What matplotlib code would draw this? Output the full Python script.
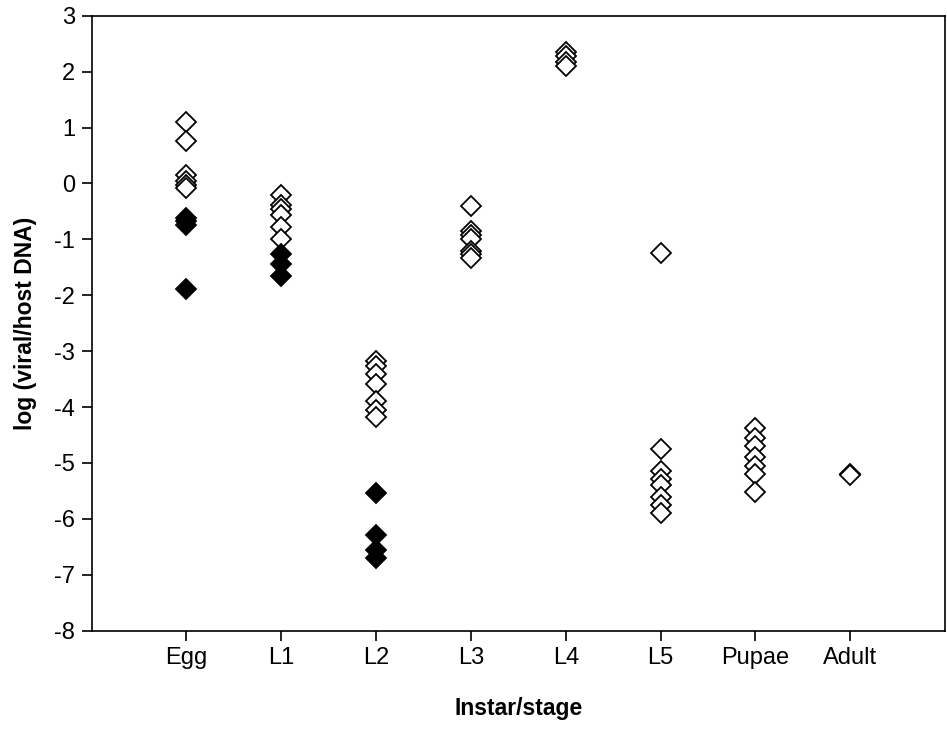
import matplotlib
matplotlib.use("Agg")
import matplotlib.pyplot as plt
from matplotlib.ticker import FuncFormatter

plt.rcParams['font.family'] = ['Liberation Sans', 'DejaVu Sans']

# stages on the x axis
estagios = ['Egg', 'L1', 'L2', 'L3', 'L4', 'L5', 'Pupae', 'Adult']

# open diamonds
egg_aberto = [1.1, 0.75, 0.15, 0.05, -0.02, -0.08]
l1_aberto = [-0.2, -0.38, -0.45, -0.56, -0.78, -1.0]
l2_aberto = [-3.17, -3.27, -3.4, -3.58, -3.9, -4.05, -4.18]
l3_aberto = [-0.4, -0.85, -0.92, -1.0, -1.2, -1.27, -1.33]
l4_aberto = [2.35, 2.28, 2.18, 2.1]
l5_aberto = [-1.25, -4.75, -5.15, -5.28, -5.4, -5.6, -5.75, -5.9]
pupa_aberto = [-4.38, -4.55, -4.7, -4.9, -5.05, -5.2, -5.52]
adulto_aberto = [-5.2, -5.22]

# filled diamonds
egg_cheio = [-0.62, -0.68, -0.74, -1.89]
l1_cheio = [-1.27, -1.45, -1.66]
l2_cheio = [-5.53, -6.28, -6.55, -6.7]

abertos = [egg_aberto, l1_aberto, l2_aberto, l3_aberto, l4_aberto,
           l5_aberto, pupa_aberto, adulto_aberto]
cheios = [egg_cheio, l1_cheio, l2_cheio, [], [], [], [], []]

fig = plt.figure(figsize=(9.47, 7.40), dpi=100)
ax = fig.add_axes([0.0968, 0.1477, 0.9012, 0.8311])

for i, vals in enumerate(abertos):
    ax.plot([i + 1] * len(vals), vals, linestyle='none', marker='D',
            markersize=10.5, markerfacecolor='white', markeredgecolor='black',
            markeredgewidth=1.3)
for i, vals in enumerate(cheios):
    if vals:
        ax.plot([i + 1] * len(vals), vals, linestyle='none', marker='D',
                markersize=10.5, markerfacecolor='black', markeredgecolor='black',
                markeredgewidth=1.3)

ax.set_xlim(0, 9)
ax.set_ylim(-8, 3)
ax.set_xticks(range(1, 9))
ax.set_xticklabels(estagios)
ax.set_yticks(range(-8, 4))
ax.yaxis.set_major_formatter(FuncFormatter(lambda v, p: '%d' % v))
ax.tick_params(direction='out', length=7, width=1.2, labelsize=17, pad=5)
for s in ax.spines.values():
    s.set_linewidth(1.2)

ax.set_xlabel('Instar/stage', fontsize=16.5, fontweight='bold', labelpad=20)
ax.set_ylabel('log (viral/host DNA)', fontsize=16.5, fontweight='bold', labelpad=12)

plt.savefig('out.png', dpi=100)
plt.close()
